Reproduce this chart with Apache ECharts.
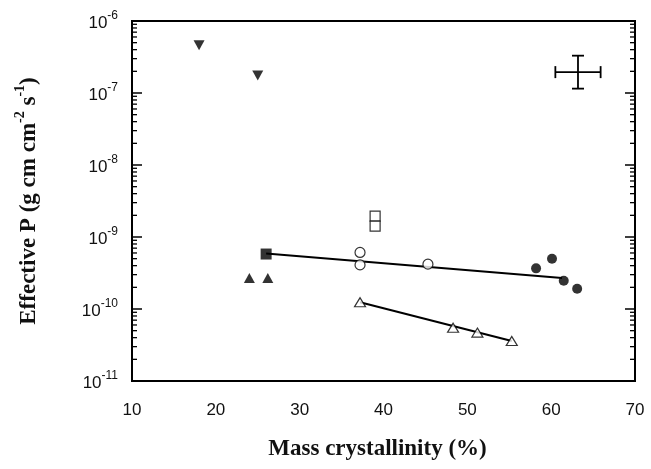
<!DOCTYPE html>
<html><head><meta charset="utf-8">
<script src="https://cdn.jsdelivr.net/npm/echarts@6/dist/echarts.min.js"></script>
<style>html,body{margin:0;padding:0;background:#fff}#c{width:651px;height:469px}</style>
</head><body><div id="c"></div>
<script>
// ---- data ----
const xTicks = [10, 20, 30, 40, 50, 60, 70];
const yTickExps = [-11, -10, -9, -8, -7, -6];
const minorMultipliers = [2, 3, 4, 5, 6, 7, 8, 9];

const downTriFilled = [[18, 4.6e-7], [25, 1.75e-7]];
const upTriFilled = [[24, 2.7e-10], [26.2, 2.7e-10]];
const squareFilled = [[26, 5.8e-10]];
const squareOpen = [[39, 1.95e-9], [39, 1.42e-9]];
const circleOpen = [[37.2, 6.1e-10], [37.2, 4.1e-10], [45.3, 4.2e-10]];
const circleFilled = [[58.2, 3.67e-10], [60.1, 5.0e-10], [61.5, 2.47e-10], [63.1, 1.91e-10]];
const upTriOpen = [[37.2, 1.24e-10], [48.3, 5.5e-11], [51.2, 4.7e-11], [55.3, 3.6e-11]];
const fitLine1 = [[26, 5.9e-10], [61.3, 2.7e-10]];
const fitLine2 = [[37.2, 1.24e-10], [55.3, 3.6e-11]];
// error cross: [xCenter, yCenter, xLow, xHigh, yLow, yHigh]
const errorCross = [[63.2, 1.95e-7, 60.5, 65.9, 1.15e-7, 3.3e-7]];

const minorTickValues = [];
yTickExps.slice(0, -1).forEach(e => minorMultipliers.forEach(m => minorTickValues.push([m * Math.pow(10, e)])));

const xMin = xTicks[0], xMax = xTicks[xTicks.length - 1];
const yMin = Math.pow(10, yTickExps[0]), yMax = Math.pow(10, yTickExps[yTickExps.length - 1]);

const chart = echarts.init(document.getElementById('c'), null, {renderer: 'canvas'});

const tickFont = 'Liberation Sans, Arial, sans-serif';
const titleFont = 'Liberation Serif, Times New Roman, serif';

function yLabel(v) {
  const e = Math.round(Math.log10(v));
  return '{b|10}{s|' + e + '}';
}

const yAxisBase = {
  type: 'log', logBase: 10, min: yMin, max: yMax,
  axisLine: {show: true, lineStyle: {color: '#000', width: 2}},
  axisTick: {show: true, inside: true, length: 10, lineStyle: {color: '#000', width: 1.5}},
  splitLine: {show: false}
};

const sym = (name, data, symbol, size, filled, rotate) => ({
  name, type: 'scatter', data, symbol, symbolSize: size, symbolRotate: rotate || 0,
  itemStyle: filled ? {color: '#000', borderColor: '#000', borderWidth: 0}
                    : {color: '#fff', borderColor: '#000', borderWidth: 1.2},
  z: 5
});

const minorTickSeries = (axisX, dir) => ({
  type: 'custom', data: minorTickValues, silent: true, clip: false, z: 4,
  encode: {y: 0},
  renderItem: (params, api) => {
    const p = api.coord([axisX, api.value(0)]);
    return {type: 'line', shape: {x1: p[0], y1: p[1], x2: p[0] + dir * 5, y2: p[1]},
            style: {stroke: '#000', lineWidth: 1.3}};
  }
});

chart.setOption({
  animation: false,
  backgroundColor: '#fff',
  grid: {left: 132, right: 16, top: 21, bottom: 88, show: true, borderColor: '#000', borderWidth: 2, backgroundColor: 'transparent'},
  xAxis: {
    type: 'value', min: xMin, max: xMax, interval: 10,
    axisLine: {show: true, lineStyle: {color: '#000', width: 2}},
    axisTick: {show: false},
    splitLine: {show: false},
    axisLabel: {margin: 21, fontFamily: tickFont, fontSize: 17, color: '#111'},
    name: 'Mass crystallinity (%)', nameLocation: 'middle', nameGap: 57,
    nameTextStyle: {fontFamily: titleFont, fontWeight: 'bold', fontSize: 23, color: '#111', padding: [0, 12, 0, 0]}
  },
  yAxis: [
    Object.assign({}, yAxisBase, {
      position: 'left',
      axisLabel: {margin: 14, formatter: yLabel, color: '#111',
        rich: {b: {fontFamily: tickFont, fontSize: 17, lineHeight: 22, verticalAlign: 'bottom', color: '#111'},
               s: {fontFamily: tickFont, fontSize: 12, lineHeight: 22, verticalAlign: 'top', color: '#111'}}},
      name: '{t|Effective P (g cm cm}{s|-2}{t| s}{s|-1}{t|)}', nameLocation: 'middle', nameRotate: 90, nameGap: 91,
      nameTextStyle: {rich: {
        t: {fontFamily: titleFont, fontWeight: 'bold', fontSize: 23, lineHeight: 28, verticalAlign: 'bottom', color: '#111'},
        s: {fontFamily: titleFont, fontWeight: 'bold', fontSize: 14, lineHeight: 28, verticalAlign: 'top', color: '#111'}}}
    }),
    Object.assign({}, yAxisBase, {position: 'right', axisLabel: {show: false}})
  ],
  series: [
    {type: 'line', data: fitLine1, symbol: 'none', lineStyle: {color: '#000', width: 2}, z: 3},
    {type: 'line', data: fitLine2, symbol: 'none', lineStyle: {color: '#000', width: 2}, z: 3},
    sym('downTriFilled', downTriFilled, 'triangle', [11, 10], true, 180),
    sym('upTriFilled', upTriFilled, 'triangle', [11, 10], true),
    sym('squareFilled', squareFilled, 'rect', 11, true),
    sym('squareOpen', squareOpen, 'rect', 10, false),
    sym('circleOpen', circleOpen, 'circle', 10, false),
    sym('circleFilled', circleFilled, 'circle', 10, true),
    sym('upTriOpen', upTriOpen, 'triangle', [11, 9], false),
    {
      type: 'custom', data: errorCross, z: 5, clip: false,
      renderItem: (params, api) => {
        const c = api.coord([api.value(0), api.value(1)]);
        const l = api.coord([api.value(2), api.value(1)]);
        const r = api.coord([api.value(3), api.value(1)]);
        const b = api.coord([api.value(0), api.value(4)]);
        const t = api.coord([api.value(0), api.value(5)]);
        const st = {stroke: '#000', lineWidth: 1.8};
        const cap = 6;
        return {type: 'group', children: [
          {type: 'line', shape: {x1: l[0], y1: c[1], x2: r[0], y2: c[1]}, style: st},
          {type: 'line', shape: {x1: c[0], y1: t[1], x2: c[0], y2: b[1]}, style: st},
          {type: 'line', shape: {x1: l[0], y1: c[1] - cap, x2: l[0], y2: c[1] + cap}, style: st},
          {type: 'line', shape: {x1: r[0], y1: c[1] - cap, x2: r[0], y2: c[1] + cap}, style: st},
          {type: 'line', shape: {x1: c[0] - cap, y1: t[1], x2: c[0] + cap, y2: t[1]}, style: st},
          {type: 'line', shape: {x1: c[0] - cap, y1: b[1], x2: c[0] + cap, y2: b[1]}, style: st}
        ]};
      }
    },
    minorTickSeries(xMin, 1),
    minorTickSeries(xMax, -1)
  ]
});
</script>
</body></html>
